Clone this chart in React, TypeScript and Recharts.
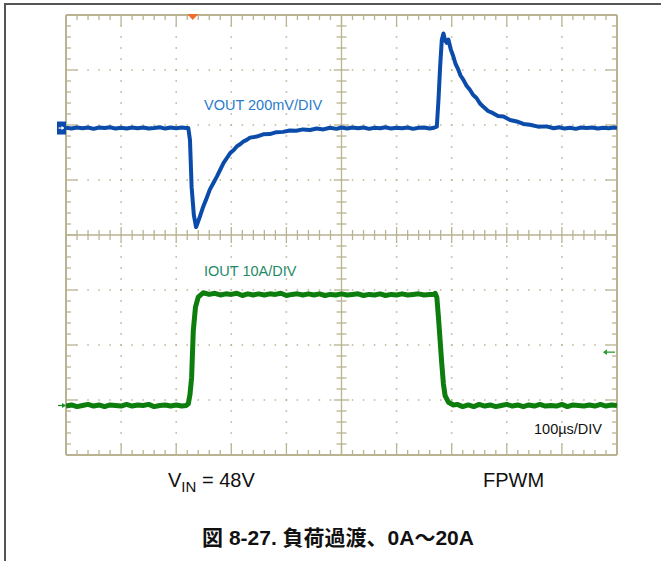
import React from 'react';
import { LineChart, Line, XAxis, YAxis, ReferenceLine, ReferenceDot } from 'recharts';

const W = 661;
const H = 561;
const GRID = '#b9b392';
const VOUT_COLOR = '#0b4cab';
const IOUT_COLOR = '#0d7d0d';

// time axis (µs), 100 µs/div, 10 divisions
const timeMajorUs = [0, 100, 200, 300, 400, 500, 600, 700, 800, 900, 1000];
// vertical divisions
const divMajor = [0, 1, 2, 3, 4, 5, 6, 7, 8];

// VOUT deviation (mV), 200 mV/div
const voutTimeUs = [
  0, 10, 20, 30, 40, 50, 60, 70, 80, 90,
  100, 110, 120, 130, 140, 150, 160, 170, 180, 190,
  200, 210, 218, 222, 225, 228, 232, 236, 237, 243,
  249, 255, 261, 267, 274, 280, 286, 292, 298, 304,
  310, 316, 322, 328, 334, 346, 358, 370, 382, 394,
  406, 418, 430, 443, 455, 467, 479, 491, 500, 510,
  520, 530, 540, 550, 560, 570, 580, 590, 600, 610,
  620, 630, 640, 650, 660, 668, 673, 676, 679, 682,
  685, 688, 691, 694, 698, 703, 707, 712, 716, 721,
  727, 733, 739, 745, 751, 757, 766, 775, 784, 794,
  806, 818, 830, 842, 857, 872, 885, 895, 905, 915,
  925, 935, 945, 955, 965, 975, 985, 995, 1000,
];
const voutMv = [
  1, -2, 2, -1, 2, -3, 2, 0, 3, -2,
  1, -2, 2, -1, 2, -2, 0, 3, -2, 2,
  -1, 2, 0, 0, -44, -215, -316, -360, -356, -322,
  -286, -256, -224, -202, -176, -151, -127, -109, -91, -81,
  -67, -59, -49, -43, -35, -31, -23, -22, -15, -14,
  -9, -10, -5, -7, -2, -5, 1, -3, 2, -2,
  2, -1, 2, -3, 1, -1, 3, -2, 1, -1,
  2, -3, 1, 2, -2, 1, 5, 102, 223, 320,
  344, 318, 310, 322, 288, 260, 233, 212, 191, 176,
  154, 139, 120, 109, 90, 78, 62, 54, 44, 42,
  29, 24, 15, 12, 5, 6, -1, 3, -2, 1,
  -3, 2, 0, 2, -2, 1, -1, 2, 0,
];

// IOUT (A), 10 A/div
const ioutTimeUs = [
  0, 10, 20, 30, 40, 50, 60, 70, 80, 90,
  100, 110, 120, 130, 140, 150, 160, 170, 180, 190,
  200, 210, 218, 222, 225, 228, 231, 235, 240, 249,
  260, 270, 280, 290, 300, 310, 320, 330, 340, 350,
  360, 370, 380, 390, 400, 410, 420, 430, 440, 450,
  460, 470, 480, 490, 500, 510, 520, 530, 540, 550,
  560, 570, 580, 590, 600, 610, 620, 630, 640, 650,
  660, 668, 670, 673, 676, 679, 682, 685, 688, 694,
  703, 710, 720, 730, 740, 750, 760, 770, 780, 790,
  800, 810, 820, 830, 840, 850, 860, 870, 880, 890,
  900, 910, 920, 930, 940, 950, 960, 970, 980, 990,
  1000,
];
const ioutA = [
  -0.1, 0.1, -0.2, 0.0, 0.2, -0.1, 0.1, -0.2, 0.1, 0.0,
  -0.1, 0.2, -0.1, 0.1, 0.0, 0.2, -0.2, 0.0, 0.1, -0.1,
  0.1, -0.1, 0.0, 0.3, 2.0, 5.1, 13.6, 17.9, 19.7, 20.5,
  20.2, 20.4, 20.1, 20.3, 20.2, 20.4, 20.0, 20.3, 20.1, 20.3,
  20.1, 20.3, 20.2, 20.4, 20.0, 20.2, 20.3, 20.1, 20.3, 20.1,
  20.3, 20.0, 20.2, 20.1, 20.3, 20.1, 20.2, 20.3, 20.0, 20.2,
  20.1, 20.3, 20.0, 20.2, 20.1, 20.3, 20.1, 20.2, 20.3, 20.1,
  20.2, 20.2, 20.4, 19.7, 16.0, 11.8, 7.6, 3.9, 1.8, 0.6,
  0.1, 0.2, -0.2, 0.1, -0.2, 0.2, -0.1, 0.1, -0.2, 0.0,
  0.2, -0.1, 0.1, -0.2, 0.1, -0.1, 0.2, -0.1, 0.0, -0.1,
  0.2, -0.2, 0.1, 0.0, -0.1, 0.1, -0.1, 0.2, -0.1, 0.1,
  0.0,
];

const voutData = voutTimeUs.map((t, i) => ({ t, v: voutMv[i] }));
const ioutData = ioutTimeUs.map((t, i) => ({ t, a: ioutA[i] }));

// minor tick positions (5 per division)
const minorX = Array.from({ length: 51 }, (_, k) => k * 20);
const minorY = Array.from({ length: 41 }, (_, k) => k / 5);

type Seg = { key: string; x1: number; y1: number; x2: number; y2: number };
const segs: Seg[] = [];
minorY.forEach((d, k) => {
  if (k === 0 || k === 40) return;
  const major = k % 5 === 0;
  const L = major ? 20 : 9;
  segs.push({ key: `l${k}`, x1: 0, y1: d, x2: L, y2: d });
  segs.push({ key: `r${k}`, x1: 1000, y1: d, x2: 1000 - L, y2: d });
  if (k !== 20) {
    const c = major ? 14 : 9;
    segs.push({ key: `c${k}`, x1: 500 - c, y1: d, x2: 500 + c, y2: d });
  }
});
minorX.forEach((t, k) => {
  if (k === 0 || k === 50) return;
  const major = k % 5 === 0;
  const L = major ? 0.2 : 0.091;
  segs.push({ key: `t${k}`, x1: t, y1: 8, x2: t, y2: 8 - L });
  segs.push({ key: `b${k}`, x1: t, y1: 0, x2: t, y2: L });
  if (k !== 25) {
    const c = major ? 0.145 : 0.091;
    segs.push({ key: `m${k}`, x1: t, y1: 4 - c, x2: t, y2: 4 + c });
  }
});

const TriggerMark = (p: any) => (
  <path d={`M${p.cx - 5.5},${p.cy - 1} L${p.cx + 5.5},${p.cy - 1} L${p.cx},${p.cy + 5} Z`} fill="#f26b2a" />
);
const Ch1Mark = (p: any) => (
  <g>
    <rect x={p.cx - 9} y={p.cy - 6.5} width={9} height={13} fill={VOUT_COLOR} />
    <line x1={p.cx - 7.5} y1={p.cy} x2={p.cx - 2} y2={p.cy} stroke="#fff" strokeWidth={1.2} />
    <path d={`M${p.cx - 2},${p.cy} L${p.cx - 4.5},${p.cy - 2.2} L${p.cx - 4.5},${p.cy + 2.2} Z`} fill="#fff" />
  </g>
);
const Ch2Mark = (p: any) => (
  <g>
    <line x1={p.cx - 8} y1={p.cy} x2={p.cx - 1} y2={p.cy} stroke="#1f8a2a" strokeWidth={1.3} />
    <path d={`M${p.cx},${p.cy} L${p.cx - 4},${p.cy - 2.5} L${p.cx - 4},${p.cy + 2.5} Z`} fill="#1f8a2a" />
  </g>
);
const LevelMark = (p: any) => (
  <g>
    <line x1={p.cx - 13} y1={p.cy} x2={p.cx - 2} y2={p.cy} stroke="#2a9a35" strokeWidth={1.3} />
    <path d={`M${p.cx - 14},${p.cy} L${p.cx - 10},${p.cy - 2.8} L${p.cx - 10},${p.cy + 2.8} Z`} fill="#2a9a35" />
  </g>
);

export default function App() {
  return (
    <div style={{ position: 'absolute', left: 0, top: 0, width: W, height: H, background: '#fff' }}>
      <LineChart width={W} height={H} margin={{ top: 15, right: 44, bottom: 106, left: 66 }}>
        <XAxis dataKey="t" type="number" domain={[0, 1000]} ticks={timeMajorUs} hide allowDataOverflow />
        <YAxis yAxisId="div" type="number" domain={[0, 8]} ticks={divMajor} hide allowDataOverflow />
        <YAxis yAxisId="v" type="number" domain={[-1189, 411]} hide allowDataOverflow />
        <YAxis yAxisId="i" type="number" domain={[-9, 71]} hide allowDataOverflow />

        {timeMajorUs.filter((t) => t !== 0 && t !== 500 && t !== 1000).map((t) => (
          <ReferenceLine key={`gx${t}`} yAxisId="div" x={t} stroke={GRID} strokeWidth={1.6}
            strokeDasharray="1.5 9.5" strokeDashoffset={0.75} />
        ))}
        {divMajor.filter((d) => d !== 0 && d !== 4 && d !== 8).map((d) => (
          <ReferenceLine key={`gy${d}`} yAxisId="div" y={d} stroke={GRID} strokeWidth={1.6}
            strokeDasharray="1.5 9.52" strokeDashoffset={0.75} />
        ))}
        <ReferenceLine yAxisId="div" x={500} stroke={GRID} strokeWidth={1.3} />
        <ReferenceLine yAxisId="div" y={4} stroke={GRID} strokeWidth={1.3} />
        {segs.map((s) => (
          <ReferenceLine key={s.key} yAxisId="div" segment={[{ x: s.x1, y: s.y1 }, { x: s.x2, y: s.y2 }]}
            stroke={GRID} strokeWidth={1.3} />
        ))}
        <ReferenceLine yAxisId="div" x={0} stroke={GRID} strokeWidth={2} />
        <ReferenceLine yAxisId="div" x={1000} stroke={GRID} strokeWidth={2} />
        <ReferenceLine yAxisId="div" y={0} stroke={GRID} strokeWidth={2} />
        <ReferenceLine yAxisId="div" y={8} stroke={GRID} strokeWidth={2} />

        <Line yAxisId="v" data={voutData} dataKey="v" type="linear" stroke={VOUT_COLOR} strokeWidth={4}
          dot={false} isAnimationActive={false} strokeLinejoin="round" />
        <Line yAxisId="i" data={ioutData} dataKey="a" type="linear" stroke={IOUT_COLOR} strokeWidth={5}
          dot={false} isAnimationActive={false} strokeLinejoin="round" />

        <ReferenceDot yAxisId="div" x={230} y={8} r={0} ifOverflow="visible" shape={TriggerMark} />
        <ReferenceDot yAxisId="v" x={0} y={0} r={0} ifOverflow="visible" shape={Ch1Mark} />
        <ReferenceDot yAxisId="i" x={0} y={0} r={0} ifOverflow="visible" shape={Ch2Mark} />
        <ReferenceDot yAxisId="i" x={1000} y={9.7} r={0} ifOverflow="visible" shape={LevelMark} />
      </LineChart>

      <svg width={W} height={H} style={{ position: 'absolute', left: 0, top: 0, pointerEvents: 'none' }}
        fontFamily="'Liberation Sans', Arial, 'Noto Sans CJK JP', sans-serif">
        <line x1={4} y1={4} x2={W} y2={4} stroke="#555" strokeWidth={2} />
        <line x1={5} y1={3} x2={5} y2={H} stroke="#555" strokeWidth={2} />
        <text x={204} y={110} fontSize={14.5} fill="#2a7bcb">VOUT 200mV/DIV</text>
        <text x={204} y={276} fontSize={14.5} fill="#1f8a68">IOUT 10A/DIV</text>
        <text x={534} y={434} fontSize={14.5} fill="#111">100µs/DIV</text>
        <text x={168} y={487} fontSize={20} fill="#111">
          V<tspan fontSize={15} dy={5}>IN</tspan><tspan dy={-5}> = 48V</tspan>
        </text>
        <text x={483} y={487} fontSize={20} fill="#111">FPWM</text>
        <text x={338} y={545} fontSize={21} fontWeight="bold" fill="#111" textAnchor="middle">
          図 8-27. 負荷過渡、0A～20A
        </text>
      </svg>
    </div>
  );
}
